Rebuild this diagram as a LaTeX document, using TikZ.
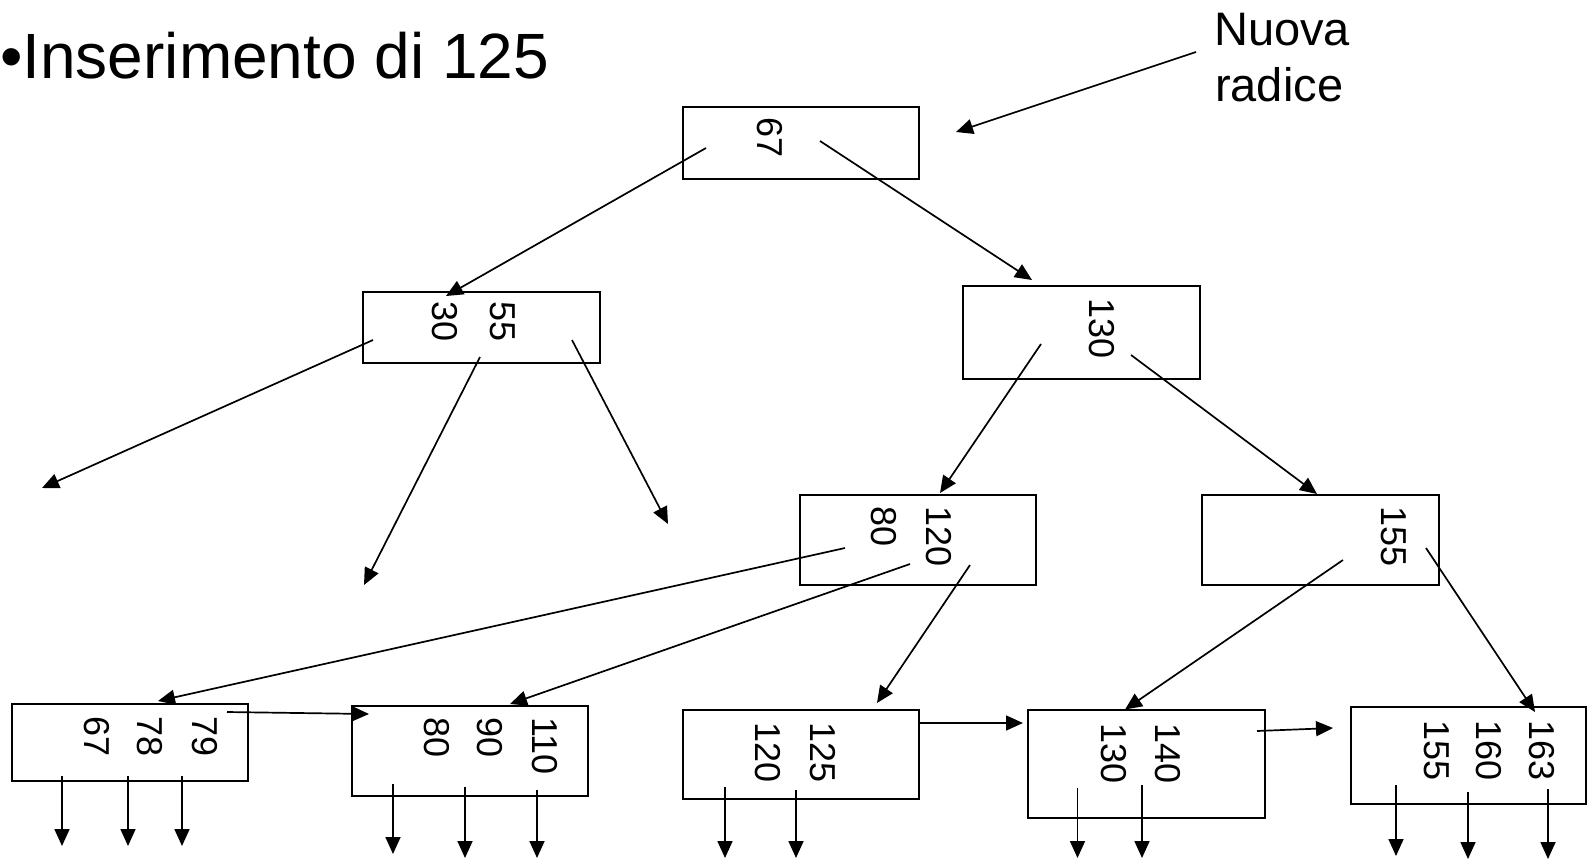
\documentclass[tikz,border=0pt]{standalone}
\usepackage{fontspec}
\setmainfont{Liberation Sans}
\usetikzlibrary{arrows.meta}
\begin{document}
\begin{tikzpicture}[x=1pt,y=-1pt,
  box/.style={draw, line width=2pt, inner sep=0pt, outer sep=0pt, rectangle},
  keyv/.style={rotate=-90, anchor=west, inner sep=0pt, font=\fontsize{36}{36}\selectfont},
  ptr/.style={line width=1.7pt, -{Triangle[length=17pt,width=15pt]}}]
\useasboundingbox (0,0) rectangle (1587,860);

% title and label
\node[anchor=base west, inner sep=0pt, font=\fontsize{64}{76}\selectfont] (title) at (0,78) {•Inserimento di 125};
\node[anchor=base west, inner sep=0pt, font=\fontsize{47}{57}\selectfont] (nuova) at (1214,45) {Nuova};
\node[anchor=base west, inner sep=0pt, font=\fontsize{47}{57}\selectfont] (radice) at (1215,101) {radice};

% boxes
\node[box, minimum width=236pt, minimum height=72.5pt] (root) at (801,142.75) {};
\node[box, minimum width=237pt, minimum height=71pt] (A) at (481.5,327.5) {};
\node[box, minimum width=237pt, minimum height=93pt] (B) at (1081.5,332.5) {};
\node[box, minimum width=236pt, minimum height=90pt] (C) at (917.5,540) {};
\node[box, minimum width=237pt, minimum height=90pt] (D) at (1320.5,540) {};
\node[box, minimum width=236pt, minimum height=77pt] (L1) at (130,742.5) {};
\node[box, minimum width=236pt, minimum height=90pt] (L2) at (470,751) {};
\node[box, minimum width=236pt, minimum height=89pt] (L3) at (801,754.5) {};
\node[box, minimum width=237pt, minimum height=108pt] (L4) at (1146.5,764) {};
\node[box, minimum width=235pt, minimum height=97pt] (L5) at (1468.5,755.5) {};

% keys
\node[keyv] (kr) at (770,117) {67};
\node[keyv] (ka1) at (445,301) {30};
\node[keyv] (ka2) at (503,301) {55};
\node[keyv] (kb1) at (1102,298) {130};
\node[keyv] (kc1) at (884,506) {80};
\node[keyv] (kc2) at (939,506) {120};
\node[keyv] (kd1) at (1394,506) {155};
\node[keyv] (k11) at (97,716) {67};
\node[keyv] (k12) at (150,716) {78};
\node[keyv] (k13) at (205,716) {79};
\node[keyv] (k21) at (437,717) {80};
\node[keyv] (k22) at (490,717) {90};
\node[keyv] (k23) at (545,717) {110};
\node[keyv] (k31) at (768,722) {120};
\node[keyv] (k32) at (823,722) {125};
\node[keyv] (k41) at (1114,723) {130};
\node[keyv] (k42) at (1168,723) {140};
\node[keyv] (k51) at (1436.5,720) {155};
\node[keyv] (k52) at (1489,720) {160};
\node[keyv] (k53) at (1542,720) {163};

% pointer coordinates
\coordinate (nrS) at (1196,52);   \coordinate (nrE) at (956,132);
\coordinate (rS1) at (706,148);   \coordinate (aT) at (446,296);
\coordinate (rS2) at (820,141);   \coordinate (bT) at (1032,280);
\coordinate (aS1) at (373,340);   \coordinate (aE1) at (42,488);
\coordinate (aS2) at (480,357);   \coordinate (aE2) at (364,585);
\coordinate (aS3) at (572,340);   \coordinate (aE3) at (668,524);
\coordinate (bS1) at (1041,344);  \coordinate (cT) at (940,493);
\coordinate (bS2) at (1131,355);  \coordinate (dT) at (1317,494);
\coordinate (cS1) at (845,548);   \coordinate (l1T) at (158,701);
\coordinate (cS2) at (910,564);   \coordinate (l2T) at (510,704);
\coordinate (cS3) at (970,565);   \coordinate (l3T) at (877,703);
\coordinate (dS1) at (1343,560);  \coordinate (l4T) at (1125,709.5);
\coordinate (dS2) at (1426,548);  \coordinate (l5T) at (1535,712);
\coordinate (l1S) at (227,712);   \coordinate (l2L) at (369,714);
\coordinate (l3S) at (919,723);   \coordinate (l4L) at (1023,723);
\coordinate (l4S) at (1257,731);  \coordinate (l5L) at (1333,728);

\draw[ptr] (nrS) -- (nrE);
\draw[ptr] (rS1) -- (aT);
\draw[ptr] (rS2) -- (bT);
\draw[ptr] (aS1) -- (aE1);
\draw[ptr] (aS2) -- (aE2);
\draw[ptr] (aS3) -- (aE3);
\draw[ptr] (bS1) -- (cT);
\draw[ptr] (bS2) -- (dT);
\draw[ptr] (cS1) -- (l1T);
\draw[ptr] (cS2) -- (l2T);
\draw[ptr] (cS3) -- (l3T);
\draw[ptr] (dS1) -- (l4T);
\draw[ptr] (dS2) -- (l5T);
\draw[ptr] (l1S) -- (l2L);
\draw[ptr] (l3S) -- (l4L);
\draw[ptr] (l4S) -- (l5L);

% down pointers
\foreach \n/\x/\a/\b in {p11/62/776/846, p12/128/776/846, p13/182/776/846,
  p21/393/784/854, p22/465/787/858, p23/537/790/858,
  p31/725/787/858, p32/796/790/858,
  p41/1077.5/788/858, p42/1142/785/858,
  p51/1396/785/856, p52/1468/792/859, p53/1548/789/859}{
  \coordinate (\n s) at (\x,\a);
  \coordinate (\n e) at (\x,\b);
  \draw[ptr] (\n s) -- (\n e);
}
\end{tikzpicture}
\end{document}
